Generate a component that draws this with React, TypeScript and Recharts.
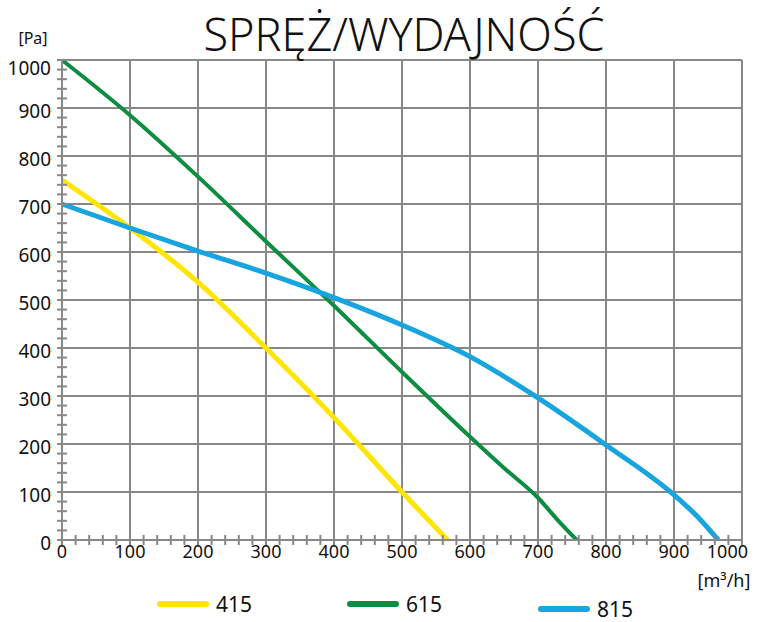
import { CartesianGrid, Line, LineChart, XAxis, YAxis } from "recharts";

// airflow [m³/h] and pressure [Pa]
const flow415 = [0, 100, 200, 300, 400, 500, 567];
const pressure415 = [750, 650, 537, 400, 255, 100, 0];

const flow615 = [0, 100, 200, 300, 400, 500, 600, 650, 700, 730, 757];
const pressure615 = [1000, 885, 757, 622, 488, 350, 215, 150, 88, 40, 0];

const flow815 = [0, 100, 200, 300, 400, 500, 600, 700, 800, 900, 935, 965];
const pressure815 = [700, 650, 602, 556, 505, 448, 382, 296, 198, 94, 48, 0];

const majorTicks = [0, 100, 200, 300, 400, 500, 600, 700, 800, 900, 1000];
const minorSteps = [0, 20, 40, 60, 80];

const allTicks = majorTicks.flatMap((t) =>
	t === 1000 ? [t] : minorSteps.map((s) => t + s),
);

const toPoints = (flow: number[], pressure: number[]) =>
	flow.map((q, i) => ({ q, p: pressure[i] }));

const series = [
	{ name: "415", color: "#FFE500", width: 5, data: toPoints(flow415, pressure415) },
	{ name: "615", color: "#0C8D41", width: 4, data: toPoints(flow615, pressure615) },
	{ name: "815", color: "#17A4DF", width: 5, data: toPoints(flow815, pressure815) },
];

// legend placement (line start x, line y)
const legendPos = [
	{ x: 157, y: 604 },
	{ x: 347, y: 604 },
	{ x: 538, y: 609 },
];

const AXIS = "#888888";
const FONT = "'Noto Sans', sans-serif";

const XTick = (props: any) => {
	const { x, y, payload } = props;
	const v = payload.value as number;
	const isMajor = v % 100 === 0;
	const last = v === 1000;
	return (
		<g>
			<line x1={x} x2={x} y1={y - 5} y2={y + 5} stroke={AXIS} strokeWidth={2} />
			{isMajor && (
				<text
					x={last ? x + 6 : x}
					y={y + 18}
					textAnchor={last ? "end" : "middle"}
					fontSize={18}
					fontFamily={FONT}
					fill="#111"
				>
					{v}
				</text>
			)}
		</g>
	);
};

const YTick = (props: any) => {
	const { x, y, payload } = props;
	const v = payload.value as number;
	const isMajor = v % 100 === 0;
	return (
		<g>
			<line x1={x - 5} x2={x + 5} y1={y} y2={y} stroke={AXIS} strokeWidth={2} />
			{isMajor && (
				<text
					x={x - 11}
					y={v === 1000 ? y + 15 : y + 10}
					textAnchor="end"
					fontSize={19}
					fontFamily={FONT}
					fill="#111"
				>
					{v}
				</text>
			)}
		</g>
	);
};

export default function App() {
	return (
		<div style={{ position: "absolute", left: 0, top: 0, width: 766, height: 622 }}>
			<LineChart
				width={766}
				height={622}
				margin={{ top: 60, right: 24, bottom: 52, left: 0 }}
			>
				<CartesianGrid
					stroke={AXIS}
					strokeWidth={2}
					horizontalValues={majorTicks}
					verticalValues={majorTicks}
				/>
				<XAxis
					type="number"
					dataKey="q"
					domain={[0, 1000]}
					ticks={allTicks}
					interval={0}
					height={30}
					tickSize={0}
					tickMargin={0}
					tickLine={false}
					axisLine={{ stroke: AXIS, strokeWidth: 2 }}
					tick={<XTick />}
				/>
				<YAxis
					type="number"
					dataKey="p"
					domain={[0, 1000]}
					ticks={allTicks}
					interval={0}
					width={62}
					tickSize={0}
					tickMargin={0}
					tickLine={false}
					axisLine={{ stroke: AXIS, strokeWidth: 2 }}
					tick={<YTick />}
				/>
				{series.map((s) => (
					<Line
						key={s.name}
						data={s.data}
						dataKey="p"
						name={s.name}
						type="monotone"
						stroke={s.color}
						strokeWidth={s.width}
						dot={false}
						activeDot={false}
						isAnimationActive={false}
					/>
				))}
			</LineChart>
			<svg
				width={766}
				height={622}
				style={{ position: "absolute", left: 0, top: 0, pointerEvents: "none" }}
				fontFamily={FONT}
			>
				<text x={404} y={51} textAnchor="middle" fontSize={45} fontWeight={300} fill="#111">
					SPRĘŻ/WYDAJNOŚĆ
				</text>
				<text x={33} y={44} textAnchor="middle" fontSize={16} fill="#111">
					[Pa]
				</text>
				<text x={724} y={587} textAnchor="middle" fontSize={18} fill="#111">
					[m³/h]
				</text>
				{series.map((s, i) => (
					<g key={s.name}>
						<line
							x1={legendPos[i].x + 3}
							x2={legendPos[i].x + 49}
							y1={legendPos[i].y}
							y2={legendPos[i].y}
							stroke={s.color}
							strokeWidth={6}
							strokeLinecap="round"
						/>
						<text x={legendPos[i].x + 59} y={legendPos[i].y + 8} fontSize={21} fill="#111">
							{s.name}
						</text>
					</g>
				))}
			</svg>
		</div>
	);
}
